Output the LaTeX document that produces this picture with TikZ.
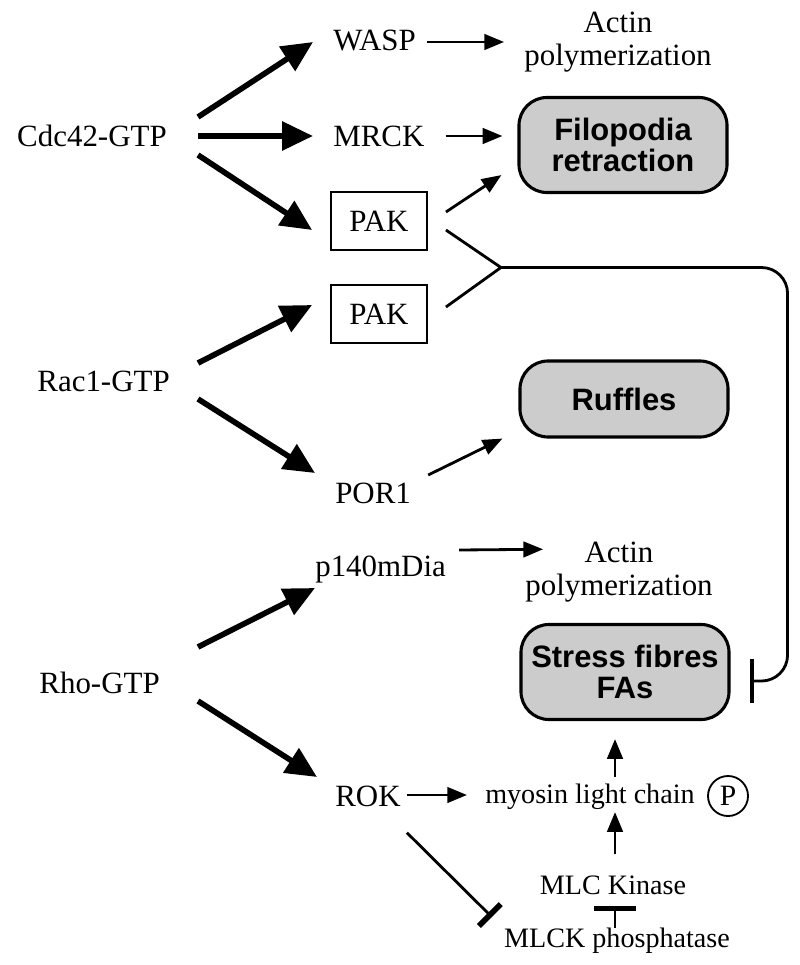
\documentclass[tikz,border=0pt]{standalone}
\usepackage{fontspec}
\setmainfont{Liberation Serif}
\setsansfont{Liberation Sans}
\usepackage{tikz}
\usetikzlibrary{arrows.meta,calc}

\begin{document}
\begin{tikzpicture}[
    x=0.025cm,
    y=-0.025cm,
    label/.style={
      inner sep=0pt,
      font=\fontsize{22}{24}\selectfont},
    small/.style={
      inner sep=0pt,
      font=\fontsize{20}{22}\selectfont},
    result/.style={
      inner sep=0pt,
      align=center,
      font=\fontsize{22}{24}\selectfont},
    kinase/.style={
      draw,
      line width=1.3pt,
      minimum width=2.4cm,
      minimum height=1.45cm,
      font=\fontsize{22}{24}\selectfont},
    effect/.style={
      draw,
      line width=2.2pt,
      rounded corners=0.7cm,
      fill=black!20,
      align=center,
      minimum width=5.2cm,
      font=\sffamily\bfseries\fontsize{22}{22}\selectfont},
    activates/.style={
      line width=4pt,
      -{Triangle[length=22pt,width=20pt]}},
    leads/.style={
      line width=2pt,
      -{Triangle[length=14pt,width=11pt]}},
    blocks/.style={
      line width=2pt,
      -{Bar[width=31pt,line width=3pt]}},
  ]
  \useasboundingbox (0,0) rectangle (800,965);

  \node[label, anchor=east] (cdc) at (167,136) {Cdc42-GTP};
  \node[label, anchor=east] (rac) at (170,381) {Rac1-GTP};
  \node[label, anchor=east] (rho) at (160,683) {Rho-GTP};

  \node[label, anchor=west] (wasp) at (333,40) {WASP};
  \node[result] (actina) at (618,42) {Actin\\polymerization};
  \node[label, anchor=west] (mrck) at (333,136) {MRCK};
  \node[effect, minimum height=2.375cm] (filo) at (623,145) {Filopodia\\retraction};
  \node[kinase] (paka) at (379,221) {PAK};
  \node[kinase] (pakb) at (379,314) {PAK};
  \node[effect, minimum height=1.9cm] (ruff) at (624,399) {Ruffles};
  \node[label, anchor=west] (por) at (335,493) {POR1};
  \node[label, anchor=west] (mdia) at (315,570) {p140mDia};
  \node[result] (actinb) at (619,572) {Actin\\polymerization};
  \node[effect, minimum height=2.375cm] (stress) at (625,672) {Stress fibres\\FAs};
  \node[label, anchor=west] (rok) at (335,796) {ROK};
  \node[small, anchor=west] (mlc) at (485,797) {myosin light chain};
  \node[draw, circle, line width=1.3pt, minimum size=1cm, inner sep=0pt,
    font=\fontsize{21}{22}\selectfont] (phos) at (728,796) {P};
  \node[small] (mlck) at (613,885) {MLC Kinase};
  \node[small] (mlckp) at (617,941) {MLCK phosphatase};

  \coordinate (join) at ($(paka.east)!0.5!(pakb.east)+(73,0)$);

  \draw[activates] ($(cdc.east)+(31,-19)$) -- ($(wasp.west)+(-20,2)$);
  \draw[activates] ($(cdc.east)+(31,0)$) -- ($(mrck.west)+(-20,0)$);
  \draw[activates] ($(cdc.east)+(31,19)$) -- ($(paka.west)+(-18,9)$);
  \draw[activates] ($(rac.east)+(28,-18)$) -- ($(pakb.west)+(-18,-9)$);
  \draw[activates] ($(rac.east)+(28,18)$) -- ($(por.west)+(-20,-20)$);
  \draw[activates] ($(rho.east)+(38,-36)$) -- ($(mdia.west)+(0,18)$);
  \draw[activates] ($(rho.east)+(38,18)$) -- ($(rok.west)+(-18,-19)$);

  \draw[leads] ($(wasp.east)+(11,2)$) -- ($(actina.west)+(-20,0)$);
  \draw[leads] ($(mrck.east)+(21,0)$) -- ($(filo.west)+(-15,-9)$);
  \draw[leads] ($(paka.east)+(18,-9)$) -- ($(filo.south west)+(-16,-19)$);
  \draw[leads] ($(por.east)+(17,-18)$) -- ($(ruff.south west)+(-16,0)$);
  \draw[leads] ($(mdia.east)+(13,-20)$) -- ($(actinb.north west)+(18,8)$);
  \draw[leads] ($(rok.east)+(6,-1)$) -- ($(mlc.west)+(-18,-2)$);
  \draw[leads] ($(mlc.north -| mlck.north)+(2,-7)$) -- ($(stress.south -| mlck.north)+(2,18)$);
  \draw[leads] ($(mlck.north)+(2,-21)$) -- ($(mlc.south -| mlck.north)+(2,2)$);

  \draw[line width=2pt] ($(paka.east)+(18,9)$) -- (join) -- ($(pakb.east)+(18,-7)$);
  \draw[blocks, rounded corners=0.65cm] (join) -| ($(stress.east)+(57,9)$) -- ($(stress.east)+(19,9)$);
  \draw[blocks, -{Bar[width=30pt,line width=3.5pt]}] ($(mlckp.north -| mlck.south)+(2,0)$) -- ($(mlck.south)+(2,11)$);
  \draw[blocks, -{Bar[width=22pt,line width=4pt]}] ($(rok.south east)+(6,26)$) -- ($(mlckp.west)+(-12,-24)$);
\end{tikzpicture}
\end{document}
